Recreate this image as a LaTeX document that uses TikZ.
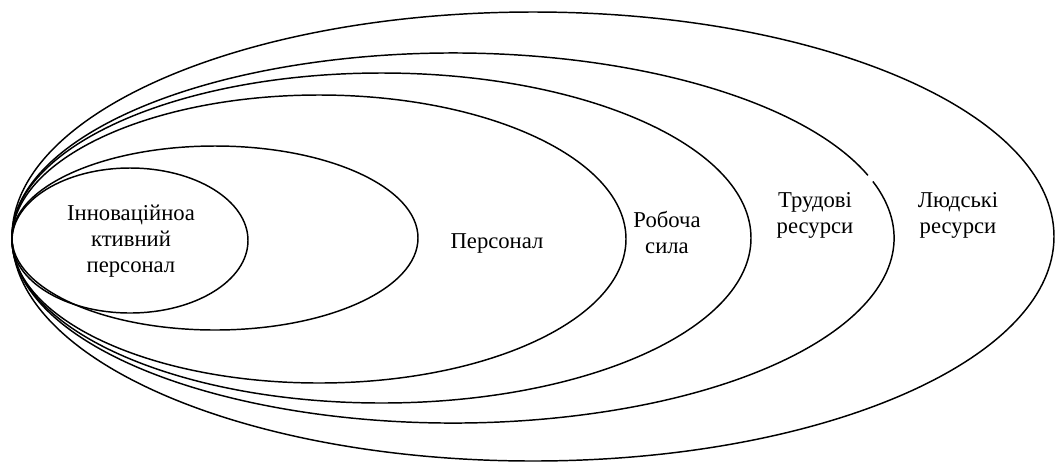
\documentclass[tikz,border=0pt]{standalone}
\usepackage{fontspec}
\setmainfont{Liberation Serif}
\begin{document}
\begin{tikzpicture}[x=0.75pt,y=-0.75pt,
  ring/.style={draw=black,line width=1.1pt},
  lbl/.style={align=center,inner sep=0pt,font=\fontsize{17}{19.5}\selectfont}]
\useasboundingbox (0,0) rectangle (1056,462);
\coordinate (c1) at (130,240.5);
\coordinate (c2) at (215,238);
\coordinate (c3) at (319,239);
\coordinate (c4) at (381.5,238);
\coordinate (c5) at (453,238);
\coordinate (c6) at (533,236.5);
\draw[ring] (c1) ellipse [x radius=118, y radius=72.5];
\draw[ring] (c2) ellipse [x radius=203, y radius=92];
\draw[ring] (c3) ellipse [x radius=307, y radius=144];
\draw[ring] (c4) ellipse [x radius=369.5, y radius=165];
\draw[ring] (c5) ++(-17.8:441 and 185) arc[start angle=-17.8, end angle=340.2, x radius=441, y radius=185];
\draw[ring] (c6) ellipse [x radius=521, y radius=224.5];
\node[lbl] (innov) at (131,241) {Інноваційноа\\ктивний\\персонал};
\node[lbl] (pers) at (497,243) {Персонал};
\node[lbl] (work) at (667,232) {Робоча\\сила};
\node[lbl] (labour) at (815,215) {Трудові\\ресурси};
\node[lbl] (human) at (958,215) {Людські\\ресурси};
\end{tikzpicture}
\end{document}
